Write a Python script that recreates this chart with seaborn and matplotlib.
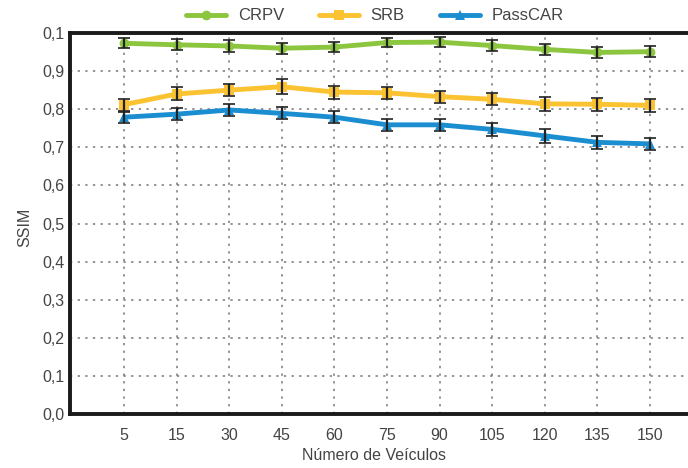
import matplotlib
matplotlib.use("Agg")
import matplotlib.pyplot as plt
import seaborn as sns
import pandas as pd
import numpy as np

# Number of vehicles (categories on the x axis)
vehicles = ["5", "15", "30", "45", "60", "75", "90", "105", "120", "135", "150"]

# Mean SSIM per method
crpv = [0.973, 0.969, 0.966, 0.960, 0.963, 0.975, 0.976, 0.967, 0.957, 0.949, 0.951]
srb = [0.812, 0.840, 0.850, 0.859, 0.845, 0.843, 0.833, 0.826, 0.814, 0.813, 0.810]
passcar = [0.779, 0.787, 0.798, 0.789, 0.779, 0.759, 0.759, 0.747, 0.730, 0.713, 0.709]

# Error (half-width of the bars)
crpv_err = [0.013, 0.014, 0.015, 0.015, 0.014, 0.013, 0.013, 0.014, 0.015, 0.015, 0.014]
srb_err = [0.016, 0.017, 0.016, 0.020, 0.017, 0.016, 0.016, 0.016, 0.018, 0.017, 0.018]
passcar_err = [0.014, 0.015, 0.016, 0.016, 0.015, 0.016, 0.016, 0.018, 0.018, 0.017, 0.016]

yticklabels = ["0,0", "0,1", "0,2", "0,3", "0,4", "0,5", "0,6", "0,7", "0,8", "0,9", "0,1"]

methods = ["CRPV", "SRB", "PassCAR"]
colors = {"CRPV": "#8cc63f", "SRB": "#fbc231", "PassCAR": "#1a8ed0"}
markers = {"CRPV": "o", "SRB": "s", "PassCAR": "^"}

frames = []
for name, vals, errs in zip(methods, [crpv, srb, passcar], [crpv_err, srb_err, passcar_err]):
    frames.append(pd.DataFrame({
        "pos": np.arange(len(vehicles)),
        "ssim": vals,
        "err": errs,
        "method": name,
    }))
df = pd.concat(frames, ignore_index=True)

sns.set_theme(style="white")
plt.rcParams["font.family"] = ["Liberation Sans", "DejaVu Sans"]

fig = plt.figure(figsize=(6.88, 4.68), dpi=100)
# axes: left spine at x=70px, bottom at y=414px, top at y=33px (right edge runs past the figure)
ax = fig.add_axes([70 / 688, (468 - 414) / 468, 643 / 688, 381 / 468])

sns.lineplot(data=df, x="pos", y="ssim", hue="method", style="method",
             palette=colors, markers=markers, dashes=False, linewidth=3.5,
             markersize=7, markeredgewidth=0, ax=ax, zorder=3)

for name in methods:
    sub = df[df["method"] == name]
    ax.errorbar(sub["pos"], sub["ssim"], yerr=sub["err"], fmt="none",
                ecolor="#222222", elinewidth=1.6, capsize=4, capthick=1.2, zorder=4)

ax.set_xlim(-1.03, 11.2)
ax.set_ylim(0, 1.0)
ax.set_xticks(np.arange(len(vehicles)))
ax.set_xticklabels(vehicles)
ax.set_yticks(np.arange(0, 1.01, 0.1))
ax.set_yticklabels(yticklabels)

ax.grid(True, linestyle=(0, (1.5, 3.5)), color="#777777", linewidth=1.1)
ax.set_axisbelow(True)

for side in ["left", "bottom", "top"]:
    ax.spines[side].set_visible(True)
    ax.spines[side].set_linewidth(2.8)
    ax.spines[side].set_color("#1a1a1a")
ax.spines["right"].set_visible(False)

ax.tick_params(axis="both", direction="in", length=5, width=1.2, color="#333333",
               labelsize=11.5, labelcolor="#444444", pad=10)
ax.tick_params(axis="y", pad=4)

ax.set_xlabel("Número de Veículos", fontsize=11.5, color="#444444")
ax.set_ylabel("SSIM", fontsize=11.5, color="#444444")
ax.xaxis.set_label_coords(0.473, -0.09)
ax.yaxis.set_label_coords(-0.059, 0.49)

handles, labels = ax.get_legend_handles_labels()
for h in handles:
    h.set_markersize(7)
    h.set_linewidth(3.5)
leg = ax.legend(handles, labels, loc="center", bbox_to_anchor=(0.474, 1.045),
                ncol=3, frameon=False, fontsize=12, handlelength=2.4,
                columnspacing=2.1, handletextpad=0.7)
for t in leg.get_texts():
    t.set_color("#444444")

fig.savefig("out.png", dpi=100)
